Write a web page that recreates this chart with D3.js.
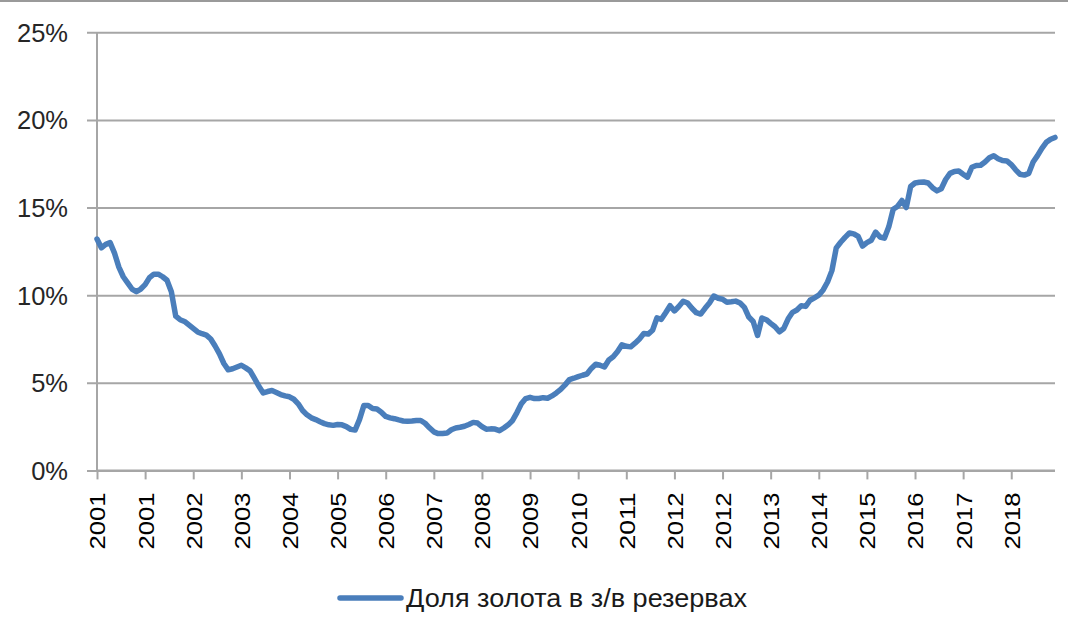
<!DOCTYPE html>
<html><head><meta charset="utf-8">
<script src="https://cdn.jsdelivr.net/npm/d3@7"></script>
<style>
html,body{margin:0;padding:0;background:#fff;}
svg{display:block;}
text{font-family:"Liberation Sans",Arial,sans-serif;}
</style></head>
<body>
<svg id="chart" width="1068" height="639"></svg>
<script>
// ---- DATA ----
const seriesName = "Доля золота в з/в резервах";
const startYear = 2001, startMonth = 0; // monthly categories from Jan 2001
const goldShare = [
13.2,12.7,12.9,13.0,12.4,11.6,11.05,10.7,10.35,10.2,
10.35,10.6,11.0,11.2,11.2,11.05,10.85,10.2,8.8,8.6,
8.5,8.3,8.1,7.9,7.8,7.72,7.5,7.1,6.65,6.1,
5.74,5.8,5.9,6.0,5.85,5.68,5.25,4.8,4.42,4.5,
4.56,4.45,4.33,4.25,4.2,4.06,3.8,3.42,3.17,3.0,
2.9,2.78,2.67,2.6,2.57,2.62,2.6,2.5,2.34,2.3,
2.9,3.7,3.7,3.53,3.5,3.32,3.08,3.0,2.95,2.88,
2.82,2.8,2.82,2.85,2.85,2.69,2.43,2.2,2.1,2.1,
2.13,2.32,2.42,2.46,2.52,2.62,2.74,2.7,2.5,2.35,
2.37,2.36,2.27,2.42,2.6,2.85,3.3,3.8,4.1,4.17,
4.1,4.1,4.15,4.12,4.25,4.42,4.62,4.88,5.18,5.26,
5.35,5.43,5.5,5.82,6.06,6.0,5.9,6.3,6.48,6.78,
7.17,7.08,7.05,7.26,7.5,7.81,7.78,8.0,8.7,8.62,
9.0,9.4,9.1,9.35,9.65,9.55,9.25,9.0,8.92,9.25,
9.55,9.95,9.82,9.77,9.6,9.62,9.66,9.55,9.3,8.75,
8.5,7.7,8.7,8.6,8.39,8.2,7.91,8.1,8.65,9.02,
9.15,9.4,9.36,9.71,9.85,10.0,10.3,10.75,11.4,12.7,
13.02,13.3,13.55,13.5,13.35,12.8,13.0,13.13,13.6,13.32,
13.25,13.9,14.9,15.06,15.4,15.0,16.2,16.4,16.44,16.46,
16.4,16.13,15.95,16.07,16.6,16.95,17.06,17.08,16.9,16.73,
17.3,17.4,17.41,17.6,17.84,17.96,17.79,17.68,17.66,17.45,
17.15,16.9,16.85,16.95,17.6,17.96,18.38,18.72,18.9,19.0
];
const tickEvery = 11;
const tickLabels = ["2001","2001","2002","2003","2004","2005","2006","2007","2008","2009",
                    "2010","2011","2012","2012","2013","2014","2015","2016","2017","2018"];
const yTicks = [0,5,10,15,20,25];

const categories = goldShare.map((d,i)=>{
  const m = startMonth + i;
  return (startYear + Math.floor(m/12)) + "-" + String(m%12+1).padStart(2,"0");
});

// ---- LAYOUT ----
const svg = d3.select("#chart");
const L = 97, R = 1055, T = 32.3, B = 470.4;
const gridColor = "#a6a6a6";
const lineColor = "#4a7ebb";

const x = d3.scalePoint().domain(categories).range([L, R]);
const y = d3.scaleLinear().domain([0, 25]).range([B, T]);

// top border
svg.append("line").attr("x1",0).attr("x2",1068).attr("y1",1).attr("y2",1)
  .attr("stroke","#9a9a9a").attr("stroke-width",2);

// gridlines + y axis via d3.axisLeft
const yAxis = d3.axisLeft(y).tickValues(yTicks).tickFormat(d=>d+"%")
  .tickSize(-(R-L)).tickPadding(19);
const gy = svg.append("g").attr("transform",`translate(${L},0)`).call(yAxis);
gy.select(".domain").remove();
gy.selectAll(".tick line").attr("stroke",gridColor).attr("stroke-width",2).attr("x1",-10);
gy.selectAll(".tick text").attr("font-size","25.5px").attr("fill","#262626")
  .attr("dy","0.35em").attr("x",-29);

// y axis line
svg.append("line").attr("x1",L).attr("x2",L).attr("y1",T).attr("y2",B)
  .attr("stroke",gridColor).attr("stroke-width",2);

// x axis
const tickCats = categories.filter((c,i)=> i % tickEvery === 0);
const xAxis = d3.axisBottom(x).tickValues(tickCats)
  .tickFormat((c,i)=>tickLabels[i]).tickSize(9).tickSizeOuter(0).tickPadding(0);
const gx = svg.append("g").attr("transform",`translate(0,${B})`).call(xAxis);
gx.select(".domain").attr("stroke",gridColor).attr("stroke-width",2)
  .attr("d",`M${L},0H${R}`);
gx.selectAll(".tick line").attr("stroke",gridColor).attr("stroke-width",2);
gx.selectAll(".tick text")
  .attr("font-size","22px").attr("fill","#000")
  .attr("text-anchor","end")
  .attr("transform","translate(0,22) rotate(-90)")
  .attr("x",0).attr("y",0).attr("dy","0.36em")
  .attr("textLength",57).attr("lengthAdjust","spacingAndGlyphs");

// series line
const line = d3.line().x((d,i)=>x(categories[i])).y(d=>y(d)).curve(d3.curveLinear);
svg.append("path").datum(goldShare).attr("d",line)
  .attr("fill","none").attr("stroke",lineColor).attr("stroke-width",5.5)
  .attr("stroke-linejoin","round").attr("stroke-linecap","round");

// legend
const lg = svg.append("g");
lg.append("line").attr("x1",340).attr("x2",401).attr("y1",598).attr("y2",598)
  .attr("stroke",lineColor).attr("stroke-width",5.5).attr("stroke-linecap","round");
lg.append("text").attr("x",406).attr("y",607).attr("font-size","25px").attr("fill","#1a1a1a")
  .attr("textLength",341).attr("lengthAdjust","spacingAndGlyphs").text(seriesName);
</script>
</body></html>
